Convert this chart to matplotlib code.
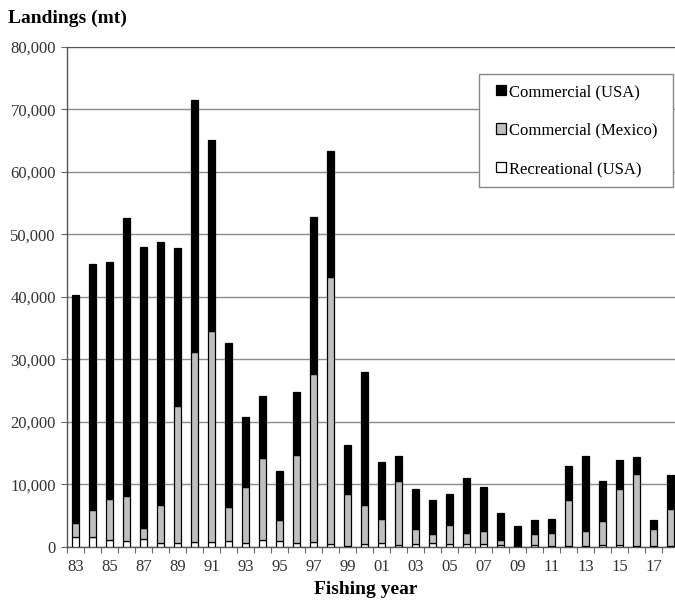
import numpy as np
import matplotlib.pyplot as plt
from matplotlib.patches import Rectangle
from matplotlib.ticker import FuncFormatter

plt.rcParams['font.family'] = ['Liberation Serif', 'DejaVu Serif']

years = ['83', '84', '85', '86', '87', '88', '89', '90', '91', '92', '93', '94',
         '95', '96', '97', '98', '99', '00', '01', '02', '03', '04', '05', '06',
         '07', '08', '09', '10', '11', '12', '13', '14', '15', '16', '17', '18']

# landings in mt
recreational_usa = [1500, 1500, 1000, 850, 1300, 650, 650, 750, 750, 850, 650, 1070,
                    950, 600, 750, 400, 150, 400, 600, 200, 400, 600, 500, 400,
                    400, 200, 50, 200, 100, 50, 50, 200, 200, 50, 50, 50]
# cumulative tops
mexico_top = [3800, 5900, 7700, 8100, 3000, 6600, 22500, 31100, 34500, 6300, 9500, 14200,
              4300, 14700, 27600, 43100, 8500, 6700, 4400, 10500, 2900, 2100, 3400, 2200,
              2450, 1000, 150, 2000, 2200, 7400, 2500, 4100, 9200, 11700, 2900, 6100]
total = [40300, 45300, 45500, 52600, 48000, 48800, 47800, 71400, 65000, 32600, 20800, 24100,
         12050, 24700, 52800, 63300, 16200, 28000, 13500, 14500, 9200, 7400, 8400, 11000,
         9500, 5400, 3300, 4200, 4400, 12900, 14500, 10500, 13800, 14400, 4300, 11500]

rec = np.array(recreational_usa)
mex = np.array(mexico_top) - rec
usa = np.array(total) - np.array(mexico_top)

x = np.arange(len(years))
w = 0.43

fig = plt.figure(figsize=(6.75, 6.03), dpi=100)
ax = fig.add_axes([67 / 675, 1 - 546.7 / 603, 1 - 67 / 675, 500 / 603])

ax.bar(x, rec, w, color='white', edgecolor='black', linewidth=0.9,
       label='Recreational (USA)', zorder=3)
ax.bar(x, mex, w, bottom=rec, color='#bfbfbf', edgecolor='black', linewidth=0.9,
       label='Commercial (Mexico)', zorder=3)
ax.bar(x, usa, w, bottom=rec + mex, color='black', edgecolor='black', linewidth=0.9,
       label='Commercial (USA)', zorder=3)

ax.set_xlim(-0.5, 35.26)
ax.set_ylim(0, 80000)
ax.set_yticks(np.arange(0, 80001, 10000))
ax.yaxis.set_major_formatter(FuncFormatter(lambda v, p: f'{int(v):,}'))
ax.yaxis.grid(True, color='#8c8c8c', linewidth=1.0, zorder=0)
ax.set_axisbelow(True)

ax.set_xticks(x[::2])
ax.set_xticklabels(years[::2])
ax.set_xticks(np.arange(-0.5, 35.5, 1.0), minor=True)
ax.tick_params(axis='x', which='major', length=0, pad=9, labelsize=12, colors='#333333')
ax.tick_params(axis='x', which='minor', length=4, width=0.8, color='#666666')
ax.tick_params(axis='y', length=4, width=0.8, color='#666666', labelsize=12,
               labelcolor='#333333', pad=4)

for s in ['left', 'bottom']:
    ax.spines[s].set_color('#555555')
    ax.spines[s].set_linewidth(1.0)
ax.spines['top'].set_color('#555555')
ax.spines['right'].set_visible(False)

fig.text(8 / 675, 1 - 18 / 603, 'Landings (mt)', fontsize=14, fontweight='bold',
         va='center', ha='left')
fig.text(366 / 675, 1 - 590 / 603, 'Fishing year', fontsize=14, fontweight='bold',
         va='center', ha='center')

# legend box drawn separately so padding can differ from the frame
box = Rectangle((0.6776, 0.7194), 0.3191, 0.226, transform=ax.transAxes,
                facecolor='white', edgecolor='#888888', linewidth=1.0, zorder=4)
ax.add_patch(box)

h, l = ax.get_legend_handles_labels()
leg = ax.legend(h[::-1], l[::-1], loc='center', bbox_to_anchor=(0.838, 0.8324),
                fontsize=12, frameon=False, handlelength=0.6, handleheight=0.6,
                handletextpad=0.2, labelspacing=1.35, borderpad=0.3)
leg.set_zorder(5)

plt.savefig('out.png', dpi=100)
